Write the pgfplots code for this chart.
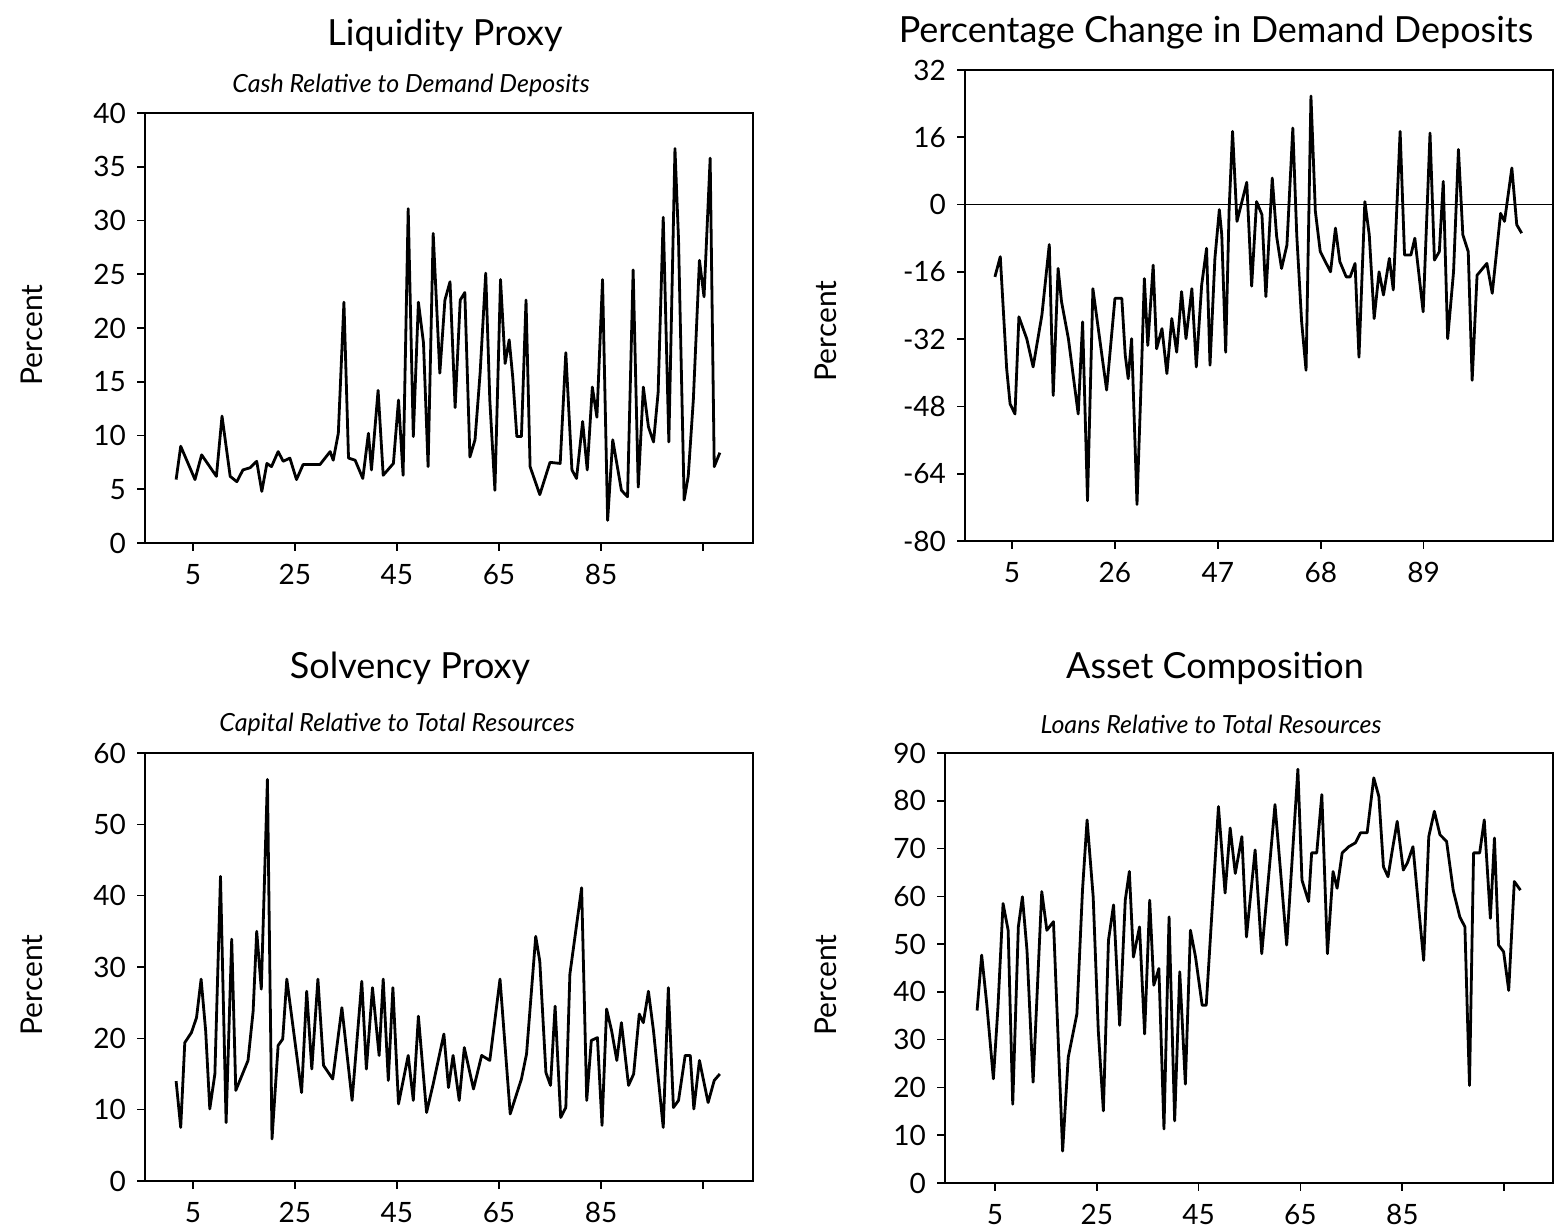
\documentclass[border=0pt]{standalone}
\usepackage{fontspec}
\setmainfont{Lato}
\usepackage{pgfplots}
\pgfplotsset{compat=1.18}

% common look of the four panels
\pgfplotsset{
  panel/.style={
    scale only axis, anchor=south west,
    axis line style={line width=1pt},
    tick align=outside, tick pos=left,
    major tick length=4pt,
    tick style={black, line width=0.8pt},
    ticklabel style={font=\fontsize{14}{14}\selectfont},
    xticklabel style={yshift=-3pt},
    yticklabel style={xshift=-2pt},
    /pgf/number format/assume math mode=true,
  },
  ser/.style={black, mark=none, line width=1.4pt, line join=round},
}
\newcommand{\ttl}{\fontsize{18}{18}\selectfont}
\newcommand{\sub}{\fontsize{12.5}{12.5}\selectfont\itshape}
\newcommand{\yl}{\fontsize{15}{15}\selectfont}

\begin{document}
\begin{tikzpicture}
\path (0,0) rectangle (784pt,614.5pt);

% ---- Liquidity proxy
\begin{axis}[panel, at={(72.5pt,343pt)}, width=304pt, height=215pt,
  xmin=-4.4, xmax=114.8, ymin=0, ymax=40,
  xtick={5,25,45,65,85,105}, xticklabels={5,25,45,65,85,},
  ytick={0,5,...,40}]
\addplot[ser] coordinates {(1.7,5.9)(2.6,9.0)(5.4,5.9)(6.7,8.2)(9.6,6.2)(10.7,11.8)(12.3,6.2)(13.6,5.7)(14.8,6.8)(16.2,7.0)(17.5,7.6)(18.5,4.8)(19.5,7.4)(20.4,7.1)(21.7,8.5)(22.7,7.6)(24,7.9)(25.3,5.9)(26.6,7.3)(29.9,7.3)(31.9,8.5)(32.5,7.7)(33.5,10.2)(34.6,22.4)(35.5,7.9)(36.8,7.7)(38.3,6.0)(39.4,10.2)(40,6.8)(41.3,14.2)(42.3,6.3)(44.3,7.4)(45.3,13.3)(46.2,6.3)(47.2,31.1)(48.2,9.9)(49.2,22.4)(50.2,18.6)(51.1,7.1)(52.1,28.8)(53.4,15.8)(54.4,22.6)(55.4,24.3)(56.4,12.6)(57.4,22.6)(58.3,23.3)(59.3,8.0)(60.3,9.6)(61.3,15.8)(62.4,25.1)(63.2,13.3)(64.2,4.9)(65.3,24.5)(66.2,16.7)(67,18.9)(67.7,15.4)(68.5,9.9)(69.4,9.9)(70.3,22.6)(71.1,7.1)(73,4.5)(75,7.5)(77,7.4)(78.1,17.7)(79.3,6.8)(80.2,6.0)(81.4,11.3)(82.3,6.8)(83.3,14.5)(84.2,11.7)(85.3,24.5)(86.3,2.1)(87.3,9.6)(89,4.9)(90.2,4.3)(91.3,25.4)(92.3,5.2)(93.3,14.5)(94.3,10.8)(95.3,9.4)(96.2,14)(97.2,30.3)(98.3,9.4)(99.5,36.7)(100.2,28.2)(101.3,4.0)(102.1,6.2)(103.1,13.3)(104.3,26.3)(105.2,22.9)(106.4,35.8)(107.2,7.1)(108.3,8.4)};
\end{axis}

% ---- Percentage change in demand deposits
\begin{axis}[panel, at={(482.5pt,344pt)}, width=294pt, height=235.5pt,
  xmin=-4.6, xmax=115.4, ymin=-80, ymax=32,
  xtick={5,26,47,68,89},
  ytick={-80,-64,...,32}]
\addplot[black, line width=0.8pt] coordinates {(-4.6,0)(115.4,0)};
\addplot[ser] coordinates {(1.5,-17.2)(2.6,-12.4)(3.9,-39)(4.6,-47.4)(5.6,-49.8)(6.4,-26.7)(8,-31.9)(9.3,-38.6)(11.1,-26.2)(12.6,-9.5)(13.4,-45.4)(14.4,-15.2)(15.1,-23.1)(16.5,-31.9)(18.5,-49.8)(19.4,-27.9)(20.4,-70.4)(21.5,-20)(22.6,-29.5)(24.3,-44.1)(26,-22.3)(27.4,-22.3)(28.1,-35.8)(28.7,-41.4)(29.4,-31.9)(30.5,-71.3)(31.3,-43.8)(32,-17.6)(32.7,-33.5)(33.8,-14.4)(34.5,-34.3)(35.6,-29.5)(36.6,-40.2)(37.6,-27.1)(38.6,-35.1)(39.6,-20.7)(40.5,-31.9)(41.7,-20)(42.6,-38.6)(43.7,-19.1)(44.7,-10.4)(45.4,-38.2)(46.4,-12.8)(47.3,-1.2)(47.8,-7.2)(48.6,-35.1)(49.3,-1.2)(50,17.4)(50.9,-4)(52.9,5.3)(53.9,-19.4)(54.9,0.7)(56,-2.4)(56.8,-21.9)(58.1,6.3)(59,-7.6)(60,-15.2)(61.1,-9.6)(62.3,18.2)(63.1,-7.2)(64.1,-27.9)(65,-39.4)(66,25.8)(66.9,-1.6)(67.9,-11.2)(70,-16)(71,-5.6)(71.9,-13.6)(73.2,-17.2)(74,-17.2)(75,-14)(75.8,-36.3)(77,0.7)(77.9,-7.2)(78.9,-27.1)(79.9,-16)(80.8,-21.5)(82,-12.8)(82.8,-20.3)(84.2,17.4)(85.1,-12)(86.4,-12)(87.2,-8)(88.9,-25.5)(90.3,17)(91.2,-13.2)(92.2,-11.2)(93,5.5)(93.9,-31.9)(95.1,-16)(96.1,13.1)(97,-7.2)(98.1,-11.2)(98.9,-41.8)(99.9,-16.8)(101.9,-14)(103,-21.1)(104.7,-2.1)(105.5,-4)(107,8.7)(108,-4.8)(109,-6.8)};
\end{axis}

% ---- Solvency proxy
\begin{axis}[panel, at={(72.5pt,24pt)}, width=304pt, height=214pt,
  xmin=-4.4, xmax=114.8, ymin=0, ymax=60,
  xtick={5,25,45,65,85,105}, xticklabels={5,25,45,65,85,},
  ytick={0,10,...,60}]
\addplot[ser] coordinates {(1.7,14.0)(2.6,7.5)(3.4,19.4)(4.7,20.8)(5.7,22.9)(6.6,28.3)(7.5,21)(8.3,10.1)(9.3,15)(10.4,42.7)(11.5,8.2)(12.6,33.9)(13.4,12.7)(15.8,16.9)(16.8,23.8)(17.5,35)(18.4,26.9)(19.6,56.3)(20.5,5.9)(21.7,19)(22.6,19.9)(23.4,28.3)(26.3,12.4)(27.3,26.6)(28.3,15.7)(29.5,28.3)(30.6,16.2)(32.4,14.3)(34.2,24.3)(36.2,11.3)(38.1,28)(39,15.7)(40.2,27.1)(41.5,17.6)(42.3,28.3)(43.3,14.1)(44.2,27.1)(45.3,10.8)(47.2,17.6)(48.2,11.3)(49.2,23.1)(50.8,9.6)(52.1,13.6)(54.2,20.6)(55.1,13.1)(56,17.6)(57.2,11.3)(58.2,18.7)(60,12.9)(61.6,17.6)(63.2,16.9)(65.2,28.3)(67.2,9.4)(69.4,14.3)(70.4,17.8)(72.2,34.3)(73,30.8)(74.2,15.2)(75.1,13.4)(76,24.5)(77.1,8.9)(78.1,10.3)(78.9,29)(81.2,41.1)(82.2,11.3)(83.1,19.7)(84.3,20.1)(85.2,7.8)(86.1,24.1)(87.1,21)(88.1,16.9)(89,22.2)(90.4,13.4)(91.4,15)(92.5,23.4)(93.3,22.2)(94.3,26.6)(95.3,21)(97.2,7.5)(98.2,27.1)(99.2,10.3)(100.2,11.3)(101.5,17.6)(102.5,17.6)(103.2,10.1)(104.3,16.9)(106,11)(107.2,14.1)(108.3,15)};
\end{axis}

% ---- Asset composition
\begin{axis}[panel, at={(472.5pt,23pt)}, width=304pt, height=215pt,
  xmin=-4.8, xmax=114.6, ymin=0, ymax=90,
  xtick={5,25,45,65,85,105}, xticklabels={5,25,45,65,85,},
  ytick={0,10,...,90}]
\addplot[ser] coordinates {(1.5,36.1)(2.4,47.7)(3.4,37.5)(4.7,21.8)(5.6,36.8)(6.6,58.5)(7.6,52.9)(8.5,16.5)(9.6,53.6)(10.4,59.9)(11.3,48.7)(12.5,21.1)(14.2,61)(15.2,52.9)(16.5,54.7)(17.3,33.3)(18.3,6.7)(19.4,26.3)(21.1,35.4)(22.2,61.3)(23.1,76)(24.3,59.9)(25.3,31.9)(26.3,15.1)(27.3,50.8)(28.3,58.2)(29.5,33)(30.6,59.2)(31.4,65.2)(32.2,47.3)(33.4,53.6)(34.4,31.2)(35.4,59.2)(36.2,41.4)(37.2,44.9)(38.2,11.3)(39.2,55.7)(40.3,13)(41.3,44.2)(42.4,20.7)(43.4,52.9)(44.4,47.3)(45.7,37.2)(46.5,37.2)(48.9,78.8)(50.2,60.7)(51.2,74.3)(52.2,64.8)(53.5,72.5)(54.4,51.5)(56.1,69.7)(57.4,48)(60,79.2)(62.3,49.8)(64.5,86.6)(65.3,63.4)(66.6,58.9)(67.2,69.1)(68.2,69.1)(69.2,81.3)(70.3,48)(71.4,65.2)(72.2,61.7)(73.2,69.1)(74.5,70.4)(75.8,71.2)(76.8,73.3)(78.1,73.3)(79.4,84.8)(80.4,80.9)(81.3,66.2)(82.2,64.1)(83,69.4)(84,75.7)(85.2,65.5)(86,67)(87.1,70.4)(88.2,57.8)(89.2,46.6)(90.2,72.5)(91.3,77.8)(92.4,72.9)(93.7,71.5)(95,61.3)(96.3,55.7)(97.3,53.6)(97.8,34.7)(98.2,20.4)(99,69.1)(100.2,69.1)(101.1,76)(102.3,55.4)(103.1,72.2)(103.9,49.8)(104.9,48.4)(105.9,40.3)(107,63.1)(108.2,61.3)};
\end{axis}

% titles and axis labels
\node[font=\ttl] at (222.5pt,597pt) {Liquidity Proxy};
\node[font=\sub] at (205.5pt,572pt) {Cash Relative to Demand Deposits};
\node[font=\ttl] at (608pt,598pt) {Percentage Change in Demand Deposits};
\node[font=\ttl] at (205pt,280.5pt) {Solvency Proxy};
\node[font=\sub] at (198.5pt,252.5pt) {Capital Relative to Total Resources};
\node[font=\ttl] at (607.5pt,280.5pt) {Asset Composition};
\node[font=\sub] at (605.5pt,252.5pt) {Loans Relative to Total Resources};
\node[font=\yl, rotate=90] at (16pt,447pt) {Percent};
\node[font=\yl, rotate=90] at (413pt,449pt) {Percent};
\node[font=\yl, rotate=90] at (16pt,122pt) {Percent};
\node[font=\yl, rotate=90] at (413pt,122pt) {Percent};
\end{tikzpicture}
\end{document}
